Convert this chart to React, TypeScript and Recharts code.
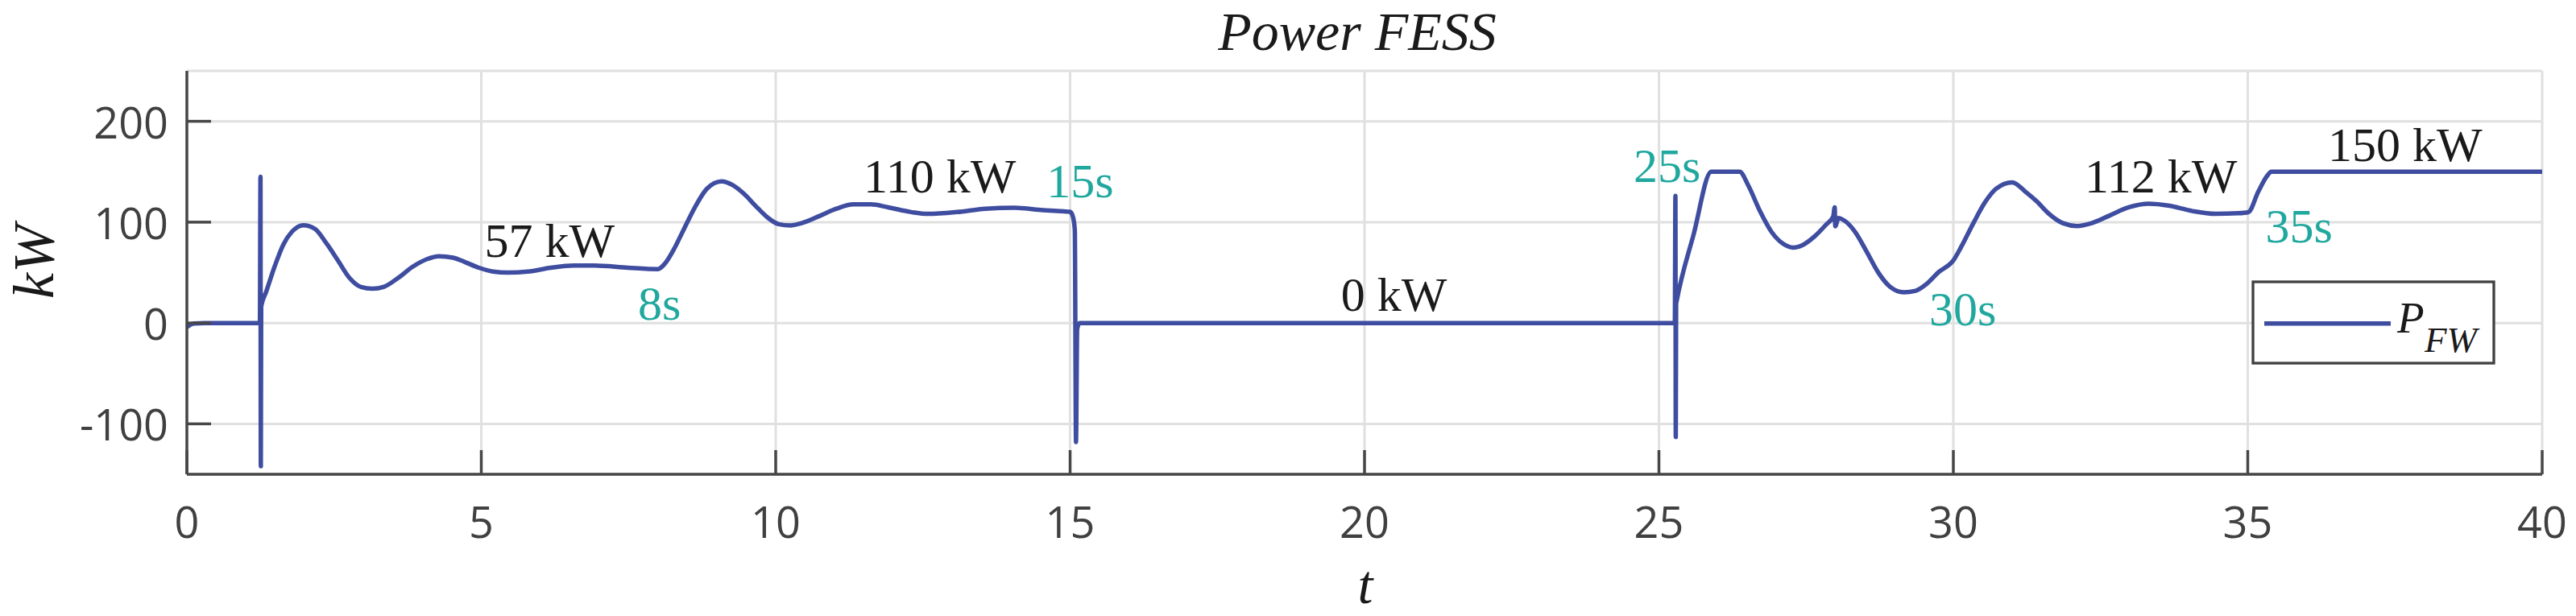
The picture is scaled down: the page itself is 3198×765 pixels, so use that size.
import React from 'react';
import { LineChart, Line, XAxis, YAxis, CartesianGrid, ReferenceDot } from 'recharts';

// ---- data ----
const timeS: number[] = [
  0, 0.12, 0.3, 1.24, 1.25, 1.256, 1.262, 1.27, 1.344, 1.49, 1.637, 1.784, 1.98, 2.175, 2.37, 2.566,
  2.76, 2.957, 3.15, 3.35, 3.59, 3.84, 4.08, 4.28, 4.52, 4.72, 4.96, 5.2, 5.45, 5.79, 6.18, 6.57,
  6.92, 7.49, 8.0, 8.12, 8.27, 8.44, 8.64, 8.83, 9.08, 9.27, 9.47, 9.66, 9.86, 10.05, 10.25, 10.44,
  10.74, 11.03, 11.32, 11.62, 11.91, 12.3, 12.59, 13.08, 13.56, 14.05, 14.54, 14.9, 15.0, 15.05,
  15.08, 15.1, 15.12, 15.16, 25.27, 25.28, 25.286, 25.292, 25.3, 25.59, 25.89, 26.37, 26.52, 26.72,
  26.91, 27.11, 27.28, 27.45, 27.65, 27.84, 27.96, 27.985, 27.995, 28.05, 28.14, 28.33, 28.53,
  28.72, 28.92, 29.16, 29.36, 29.55, 29.75, 30.0, 30.14, 30.34, 30.53, 30.73, 31.0, 31.22, 31.42,
  31.61, 31.86, 32.1, 32.35, 32.64, 32.98, 33.32, 33.67, 34.06, 34.45, 34.84, 35.01, 35.18, 35.33,
  35.4, 40,
];
const powerKW: number[] = [
  -4, -0.5, 0, 0, 145, -142, 16, 18.5, 30.5, 56, 77.6, 90.5, 97, 93.3, 79, 62,
  44.8, 35.7, 34, 36, 44.8, 56, 63.4, 66.2, 64.8, 60.5, 54.8, 51, 50, 51, 54.8, 57,
  57, 54.8, 53.4, 59, 73, 93, 116, 133, 140.4, 136.7, 127.6, 116, 104.7, 98, 96.7, 99,
  106, 113.3, 117.6, 117.6, 114.7, 110, 108.2, 110, 113.3, 114.2, 111.9, 110.6, 110.3, 105,
  92, -118, -6, 0, 0, 126, -113, 19, 21.5, 88, 150, 150, 136, 110.4,
  90.5, 78.5, 74.8, 77.6, 86.2, 97.6, 105.6, 114.7, 96, 104, 101.9, 90.5, 70.5,
  50.5, 36.2, 30.5, 32, 39, 50.5, 62, 76.2, 99, 119, 133.3, 139.5, 130.4, 120.4,
  109, 99, 96.2, 99, 106.2, 114.7, 118.2, 116.2, 111, 108.2, 108.8, 109.9, 130.4, 146,
  150, 150,
];

const xTicks: number[] = [0, 5, 10, 15, 20, 25, 30, 35, 40];
const yTicks: number[] = [-100, 0, 100, 200];

const levelTexts: string[] = ['57 kW', '110 kW', '0 kW', '112 kW', '150 kW'];
const levelT: number[] = [5.056, 11.49, 19.6, 32.23, 36.36];
const levelV: number[] = [65.9, 129.8, 12.3, 129.8, 160.2];

const timeTexts: string[] = ['8s', '15s', '25s', '30s', '35s'];
const timeT: number[] = [7.66, 14.6, 24.57, 29.59, 35.3];
const timeV: number[] = [3.5, 125, 140.2, -2.1, 80.2];

const data = timeS.map((t, i) => ({ t, p: powerKW[i] }));

// ---- styles ----
const W = 3198;
const H = 765;
const LINE = '#3f4da0';
const TEAL = '#20a89e';
const AXIS = '#474747';
const GRID = '#e0e0e0';
const TICKFONT = "'Open Sans', 'Noto Sans', sans-serif";
const SERIF = "'Liberation Serif', 'Times New Roman', serif";

const XTick = (props: any) => {
  const { x, y, payload } = props;
  return (
    <g>
      <line x1={x} x2={x} y1={y} y2={y - 30} stroke={AXIS} strokeWidth={3.5} />
      <text x={x} y={y + 79} textAnchor="middle" fontFamily={TICKFONT} fontSize={54} fill="#404040">
        {payload.value}
      </text>
    </g>
  );
};

const YTick = (props: any) => {
  const { x, y, payload } = props;
  return (
    <g>
      <line x1={x} x2={x + 30} y1={y} y2={y} stroke={AXIS} strokeWidth={3.5} />
      <text x={x - 23} y={y + 21} textAnchor="end" fontFamily={TICKFONT} fontSize={54} fill="#404040">
        {payload.value}
      </text>
    </g>
  );
};

const makeLabel = (text: string, color: string) => (p: any) => (
  <text
    x={p.viewBox.x}
    y={p.viewBox.y}
    fontFamily={SERIF}
    style={{ fontFamily: SERIF }}
    fontSize={60}
    fill={color}
    textAnchor="start"
  >
    {text}
  </text>
);

export default function App() {
  return (
    <div style={{ position: 'absolute', left: 0, top: 0, width: W, height: H, background: '#fff' }}>
      <LineChart width={W} height={H} data={data} margin={{ top: 88, right: 42, bottom: 0, left: 0 }}>
        <CartesianGrid stroke={GRID} strokeWidth={3} />
        <XAxis
          dataKey="t"
          type="number"
          domain={[0, 40]}
          ticks={xTicks}
          height={176}
          tickSize={0}
          tickMargin={0}
          tickLine={false}
          axisLine={{ stroke: AXIS, strokeWidth: 3.5 }}
          tick={<XTick />}
          interval={0}
        />
        <YAxis
          type="number"
          domain={[-150, 250]}
          ticks={yTicks}
          width={232}
          tickSize={0}
          tickMargin={0}
          tickLine={false}
          axisLine={{ stroke: AXIS, strokeWidth: 3.5 }}
          tick={<YTick />}
          interval={0}
          allowDataOverflow
        />
        <Line
          type="monotone"
          dataKey="p"
          stroke={LINE}
          strokeWidth={5.5}
          dot={false}
          activeDot={false}
          isAnimationActive={false}
          strokeLinejoin="round"
        />
        {levelTexts.map((s, i) => (
          <ReferenceDot
            key={'lv' + i}
            x={levelT[i]}
            y={levelV[i]}
            r={0}
            fill="none"
            stroke="none"
            label={{ content: makeLabel(s, '#1a1a1a') }}
          />
        ))}
        {timeTexts.map((s, i) => (
          <ReferenceDot
            key={'tm' + i}
            x={timeT[i]}
            y={timeV[i]}
            r={0}
            fill="none"
            stroke="none"
            label={{ content: makeLabel(s, TEAL) }}
          />
        ))}
      </LineChart>
      <svg
        width={W}
        height={H}
        style={{ position: 'absolute', left: 0, top: 0, pointerEvents: 'none' }}
      >
        <text x={1685} y={62} textAnchor="middle" fontFamily={SERIF} fontStyle="italic" fontSize={68} fill="#1a1a1a">
          Power FESS
        </text>
        <text x={1695} y={749} textAnchor="middle" fontFamily={SERIF} fontStyle="italic" fontSize={68} fill="#1a1a1a">
          t
        </text>
        <text
          x={0}
          y={0}
          transform="translate(66 325) rotate(-90)"
          textAnchor="middle"
          fontFamily={SERIF}
          fontStyle="italic"
          fontSize={72}
          fill="#1a1a1a"
        >
          kW
        </text>
        <rect x={2797} y={350} width={299} height={101} fill="#fff" stroke="#404040" strokeWidth={3.3} />
        <line x1={2811} x2={2968} y1={401.7} y2={401.7} stroke={LINE} strokeWidth={5.5} />
        <text x={2976} y={412.7} fontFamily={SERIF} fontStyle="italic" fontSize={55} fill="#1a1a1a">
          P
        </text>
        <text x={3010} y={436.7} fontFamily={SERIF} fontStyle="italic" fontSize={45} fill="#1a1a1a">
          FW
        </text>
      </svg>
    </div>
  );
}
